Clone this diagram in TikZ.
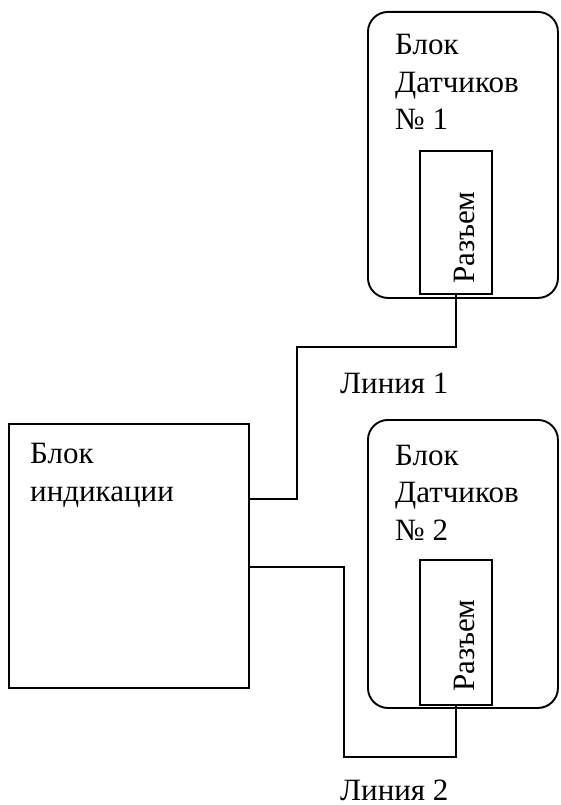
\documentclass[tikz,border=0pt]{standalone}
\usepackage{fontspec}
\setmainfont{Liberation Serif}
\usetikzlibrary{calc}
\tikzstyle{block}=[draw, line width=1.9pt, inner sep=0pt, anchor=north west]
\tikzstyle{sensorblock}=[block, rounded corners=20pt]
\tikzstyle{wire}=[line width=1.9pt]
\tikzstyle{caption}=[inner sep=0pt, align=left, anchor=base west, font=\fontsize{31}{37.5}\selectfont]

\begin{document}
\begin{tikzpicture}[x=1pt, y=-1pt]
	\useasboundingbox (0,0) rectangle (560,805);
	\node[block, minimum width=240, minimum height=264] (ind) at (8,423) {};
	\node[sensorblock, minimum width=190, minimum height=286] (dat1) at (367,11) {};
	\node[sensorblock, minimum width=190, minimum height=288] (dat2) at (367,419) {};
	\node[block, minimum width=72, minimum height=143] (con1) at (419,150) {};
	\node[block, minimum width=72, minimum height=145] (con2) at (419,559) {};
	\node[caption] at (30,501) {Блок\\индикации};
	\node[caption] at (395,130) {Блок\\Датчиков\\№ 1};
	\node[caption] at (395,540) {Блок\\Датчиков\\№ 2};
	\node[caption, rotate=90] at ([xshift=19pt,yshift=11pt]con1.south) {Разъем};
	\node[caption, rotate=90] at ([xshift=19pt,yshift=14pt]con2.south) {Разъем};
	\node[caption] (line1) at (340,393) {Линия 1};
	\node[caption] (line2) at (340,800) {Линия 2};
	\draw[wire] (con1.south) |- (297,347) |- ($(ind.north east)+(0,76)$);
	\draw[wire] ($(ind.north east)+(0,144)$) -| (344,757) -| (con2.south);
\end{tikzpicture}
\end{document}
